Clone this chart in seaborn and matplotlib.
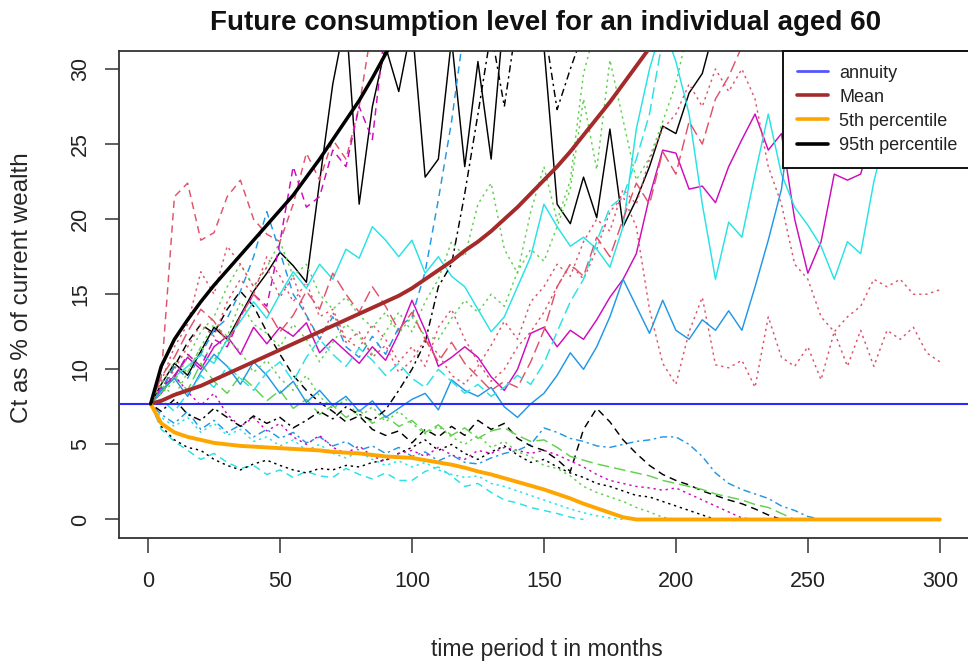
import numpy as np
import pandas as pd
import matplotlib
matplotlib.use("Agg")
import matplotlib.pyplot as plt
import seaborn as sns
from matplotlib.lines import Line2D

# ---------------------------------------------------------------- data
# months at which each simulated path is recorded (t = 1, 5, 10, ..., 300)
months = np.array([1] + list(range(5, 301, 5)))

annuity_level = 7.7

mean_path = [7.7, 7.9, 8.3, 8.6, 8.9, 9.3, 9.7, 10.1, 10.5, 10.9,
             11.3, 11.7, 12.1, 12.5, 12.9, 13.3, 13.7, 14.1, 14.5, 14.9,
             15.4, 16.0, 16.6, 17.2, 17.9, 18.5, 19.2, 20.0, 20.8, 21.7,
             22.6, 23.5, 24.5, 25.6, 26.7, 27.8, 29.0, 30.2, 31.4, 32.6,
             33.9]

pct95_path = [7.7, 10.2, 12.0, 13.3, 14.5, 15.6, 16.6, 17.6, 18.6, 19.6,
              20.6, 21.6, 22.8, 24.0, 25.3, 26.6, 27.9, 29.4, 31.0, 32.5]

pct5_path = [7.7, 6.4, 5.8, 5.5, 5.3, 5.1, 5.0, 4.9, 4.85, 4.8,
             4.75, 4.7, 4.65, 4.6, 4.5, 4.45, 4.4, 4.3, 4.2, 4.15,
             4.1, 3.95, 3.8, 3.65, 3.45, 3.2, 3.0, 2.75, 2.5, 2.25,
             2.0, 1.7, 1.4, 1.05, 0.75, 0.45, 0.15, 0.0, 0.0, 0.0,
             0.0, 0.0, 0.0, 0.0, 0.0, 0.0, 0.0, 0.0, 0.0, 0.0,
             0.0, 0.0, 0.0, 0.0, 0.0, 0.0, 0.0, 0.0, 0.0, 0.0,
             0.0]

# simulated consumption paths (Ct as % of current wealth)
sim_black_solid = [7.7, 9.0, 10.4, 9.6, 11.2, 12.8, 12.0, 13.6, 15.2, 16.4,
                   17.8, 16.9, 15.8, 22.5, 29.0, 33.5, 21.0, 27.5, 31.5, 28.5,
                   33.0, 22.8, 24.0, 32.0, 23.5, 30.5, 24.0, 34.0, 38.0, 36.0,
                   31.5, 21.0, 19.7, 22.8, 20.1, 26.0, 19.5, 21.3, 23.5, 26.2,
                   25.7, 28.4, 29.7, 33.0]
sim_red_dashed = [7.7, 9.5, 21.5, 22.4, 18.6, 19.1, 21.5, 22.6, 20.0, 19.0,
                  18.5, 21.0, 24.4, 22.6, 25.3, 24.0, 27.5, 33.0]
sim_green_dotted = [7.7, 9.0, 10.5, 9.8, 11.5, 13.0, 12.2, 14.5, 13.0, 12.4,
                    11.5, 13.0, 12.0, 10.5, 11.8, 13.0, 12.2, 11.0, 12.5, 13.8,
                    12.5, 14.5, 16.0, 18.5, 17.5, 21.0, 22.4, 18.0, 16.4, 20.5,
                    23.5, 19.9, 22.6, 29.7, 33.0]
sim_blue_dotdash = [7.7, 7.0, 6.4, 7.2, 6.0, 6.6, 5.8, 6.3, 5.5, 6.0,
                    5.4, 5.8, 5.1, 5.5, 4.9, 5.2, 4.6, 4.9, 4.4, 4.8,
                    4.2, 4.5, 3.9, 4.3, 3.8, 3.7, 4.1, 4.4, 4.6, 5.0,
                    6.1, 5.8, 5.4, 5.2, 4.9, 4.8, 5.0, 5.2, 5.3, 5.5,
                    5.5, 5.0, 4.2, 3.1, 2.4, 2.0, 1.7, 1.4, 0.9, 0.6,
                    0.2, 0.0]
sim_cyan_dashed = [7.7, 6.0, 5.2, 4.6, 4.0, 4.4, 3.8, 3.4, 3.6, 3.0,
                   3.3, 2.8, 3.2, 2.9, 2.8, 3.4, 3.0, 2.7, 3.1, 2.6,
                   2.6, 3.2, 3.5, 2.9, 2.2, 2.4, 1.8, 1.3, 1.1, 0.8,
                   0.6, 0.4, 0.15, 0.0]
sim_magenta_solid = [7.7, 8.4, 9.6, 10.8, 10.0, 11.5, 12.2, 11.0, 12.8, 11.7,
                     12.8, 12.2, 13.1, 11.1, 12.0, 11.2, 10.4, 11.5, 10.6, 12.4,
                     14.6, 12.6, 10.2, 10.8, 11.5, 10.8, 9.5, 8.6, 10.0, 12.4,
                     12.8, 11.5, 12.6, 12.0, 13.3, 14.8, 16.0, 17.7, 21.5, 24.6,
                     24.4, 22.0, 22.2, 21.1, 23.5, 25.3, 27.0, 24.6, 25.7, 20.0,
                     16.4, 18.5, 23.0, 22.6, 23.0, 26.0, 27.5, 28.0, 27.0, 28.0,
                     29.0]
sim_black_dashed = [7.7, 8.6, 10.2, 11.8, 13.0, 12.4, 14.0, 15.2, 14.2, 12.5,
                    11.0, 9.6, 8.6, 7.8, 7.2, 6.5, 6.9, 6.0, 5.6, 5.9,
                    5.1, 6.0, 5.5, 6.2, 5.6, 6.6, 6.0, 6.4, 5.4, 4.9,
                    4.6, 4.0, 3.2, 6.0, 7.4, 6.5, 5.3, 4.4, 3.6, 3.0,
                    2.6, 2.3, 1.9, 1.6, 1.3, 1.05, 0.7, 0.3, 0.0]
sim_red_dotted = [7.7, 8.6, 10.0, 11.5, 13.0, 12.2, 14.5, 16.0, 15.0, 17.5,
                  16.2, 14.5, 15.8, 13.5, 14.0, 12.0, 11.4, 13.0, 12.0, 10.5,
                  11.5, 10.2, 12.8, 14.0, 12.0, 10.5, 9.2, 10.0, 11.5, 12.5,
                  13.8, 15.5, 17.0, 16.0, 18.0, 20.5, 21.5, 19.5, 14.0, 10.4,
                  9.0, 12.5, 14.8, 10.3, 10.1, 10.6, 8.8, 13.5, 10.8, 10.2,
                  11.5, 9.3, 12.5, 10.2, 12.6, 10.2, 12.6, 12.0, 12.8, 11.1,
                  10.5]
sim_green_dotdash = [7.7, 8.4, 9.2, 10.8, 12.5, 13.5, 15.5, 17.0, 15.5, 16.8,
                     18.5, 16.2, 17.0, 15.0, 14.0, 14.8, 13.6, 12.8, 13.8, 12.4,
                     13.5, 12.2, 12.0, 13.4, 14.6, 13.8, 15.0, 14.2, 16.5, 18.0,
                     17.2, 19.5, 22.0, 28.0, 23.3, 30.6, 26.6, 22.6, 24.1, 26.5,
                     29.0, 33.0]
sim_blue_dashed = [7.7, 8.6, 10.2, 9.4, 11.0, 12.6, 13.4, 15.2, 17.5, 20.5,
                   17.8, 15.0, 13.6, 12.0, 13.5, 11.5, 10.8, 12.2, 11.0, 12.8,
                   13.5, 16.5, 21.3, 26.5, 33.0]
sim_cyan_solid = [7.7, 8.5, 9.5, 10.2, 11.0, 10.4, 12.0, 13.2, 14.5, 13.4,
                  15.0, 16.5, 15.4, 17.0, 16.0, 18.0, 17.4, 19.5, 18.6, 17.5,
                  18.6, 16.4, 17.5, 16.2, 15.5, 14.0, 12.5, 13.5, 15.5, 17.5,
                  21.0, 19.5, 18.2, 18.8, 18.0, 16.8, 19.5, 26.0, 30.0, 33.0,
                  30.5, 27.0, 21.0, 16.0, 19.8, 18.8, 23.0, 27.0, 23.0, 20.8,
                  19.6, 18.2, 16.0, 18.5, 17.7, 22.5, 26.0, 27.5, 28.0, 27.0,
                  28.0]
sim_magenta_dashed = [7.7, 8.8, 9.5, 11.0, 10.2, 12.0, 11.5, 13.5, 15.0, 14.2,
                      18.5, 23.5, 20.8, 21.5, 24.6, 23.5, 27.5, 25.3, 33.0]
sim_black_dotted = [7.7, 6.2, 5.3, 4.8, 4.6, 4.0, 3.6, 3.3, 3.7, 3.95,
                    3.6, 3.3, 3.1, 3.4, 3.3, 3.6, 3.5, 3.8, 3.95, 4.4,
                    4.8, 5.3, 4.6, 5.0, 4.4, 4.0, 4.5, 4.9, 4.3, 3.8,
                    4.0, 3.5, 3.1, 2.8, 2.4, 2.2, 1.9, 1.6, 1.5, 1.2,
                    0.9, 0.6, 0.3, 0.0]
sim_red_dotdash = [7.7, 9.2, 11.5, 13.0, 16.5, 15.0, 18.2, 17.0, 15.5, 16.8,
                   14.8, 16.2, 13.5, 12.0, 13.8, 11.8, 12.5, 10.8, 11.6, 9.8,
                   10.6, 12.0, 11.0, 9.6, 9.0, 10.2, 11.6, 13.2, 12.0, 14.5,
                   15.5, 17.0, 16.2, 18.5, 20.0, 19.2, 22.0, 21.0, 24.0, 26.0,
                   27.0, 29.0, 27.5, 30.0, 28.5, 30.0, 28.0, 23.5, 21.0, 17.0,
                   16.0, 13.5, 12.5, 13.5, 14.2, 16.0, 15.5, 16.0, 15.0, 15.0,
                   15.3]
sim_green_longdash = [7.7, 8.5, 9.5, 8.6, 10.4, 9.2, 8.4, 9.6, 8.8, 7.9,
                      8.6, 7.4, 8.0, 7.0, 7.6, 6.8, 7.3, 6.4, 6.9, 6.2,
                      6.6, 5.8, 6.3, 5.6, 6.1, 5.4, 5.9, 6.1, 5.6, 5.2,
                      5.3, 4.8, 4.2, 3.95, 3.7, 3.5, 3.3, 3.1, 2.9, 2.6,
                      2.4, 2.2, 2.0, 1.7, 1.5, 1.3, 1.0, 0.8, 0.4, 0.0]
sim_blue_solid = [7.7, 8.6, 9.4, 8.2, 9.8, 11.0, 10.2, 9.0, 10.5, 9.6,
                  8.4, 9.2, 7.8, 8.6, 7.6, 8.2, 7.2, 7.9, 6.8, 7.4,
                  8.0, 8.4, 7.3, 9.3, 8.6, 8.2, 8.8, 7.5, 6.8, 7.7,
                  8.4, 9.6, 11.1, 10.0, 11.5, 13.5, 16.0, 14.2, 12.4, 14.6,
                  12.6, 12.0, 13.3, 12.6, 13.9, 12.6, 15.5, 18.6, 22.0, 29.0,
                  33.0]
sim_cyan_dotted = [7.7, 6.8, 6.2, 6.8, 5.8, 6.4, 5.6, 6.0, 5.2, 5.5,
                   4.9, 5.3, 4.6, 5.0, 4.4, 4.1, 4.5, 4.0, 3.6, 3.9,
                   3.5, 3.8, 3.3, 3.0, 2.8, 2.9, 2.4, 2.2, 1.9, 1.6,
                   1.3, 1.0, 0.7, 0.45, 0.25, 0.1, 0.0]
sim_magenta_dotted = [7.7, 8.8, 9.6, 8.5, 7.6, 8.4, 7.0, 6.2, 6.8, 5.9,
                      6.4, 5.5, 5.0, 5.6, 4.8, 4.4, 4.9, 4.2, 3.9, 4.4,
                      4.6, 4.2, 4.8, 4.3, 4.0, 4.6, 4.4, 4.8, 4.6, 4.4,
                      4.6, 4.3, 3.9, 3.5, 3.0, 2.6, 2.4, 2.2, 2.1, 1.95,
                      2.1, 1.7, 1.3, 0.9, 0.5, 0.1, 0.0]
sim_black_dotdash = [7.7, 7.2, 8.0, 7.0, 6.6, 7.4, 6.8, 6.2, 6.9, 6.4,
                     6.8, 6.1, 6.6, 7.2, 6.7, 7.5, 7.0, 6.6, 7.3, 8.6,
                     10.0, 11.8, 15.5, 17.0, 21.7, 27.0, 32.5, 27.5, 33.5, 37.0,
                     33.0, 27.3, 30.0, 32.5, 36.0]
sim_red_longdash = [7.7, 9.5, 10.8, 12.5, 14.0, 13.2, 11.8, 13.5, 15.0, 14.0,
                    12.5, 13.6, 15.2, 14.0, 16.4, 15.0, 13.8, 15.5, 14.2, 12.6,
                    13.8, 12.0, 10.5, 11.8, 10.4, 9.5, 8.6, 9.2, 8.8, 10.5,
                    12.6, 15.5, 17.0, 16.2, 18.8, 17.5, 20.0, 22.4, 21.0, 24.5,
                    23.0, 26.5, 25.0, 28.0, 29.5, 31.5, 34.0]
sim_green_dotted_low = [7.7, 9.0, 8.2, 9.8, 11.5, 10.6, 12.0, 11.2, 9.8, 10.6,
                        9.4, 8.6, 9.6, 8.2, 7.4, 8.0, 6.8, 7.5, 6.5, 7.2,
                        6.4, 5.7, 6.2, 5.5, 5.0, 5.6, 4.8, 5.2, 4.5, 4.2,
                        3.6, 3.4, 2.9, 2.2, 1.8, 1.5, 1.2, 0.8, 0.5, 0.15,
                        0.0]
sim_cyan_longdash = [7.7, 8.0, 7.2, 8.4, 9.6, 8.8, 10.2, 9.4, 8.6, 9.8,
                     10.5, 9.2, 10.8, 12.0, 11.0, 10.2, 11.4, 10.6, 9.6, 10.4,
                     9.4, 8.8, 10.0, 9.2, 8.4, 9.0, 8.2, 8.8, 9.6, 9.0,
                     10.4, 12.5, 14.5, 16.0, 18.5, 20.8, 21.5, 24.0, 27.0, 32.0]

# ---------------------------------------------------------------- styling
BLACK, RED, GREEN = "#000000", "#DF536B", "#61D04F"
BLUE, CYAN, MAGENTA = "#2297E6", "#28E2E5", "#CD0BBC"
SOLID, DASHED, DOTTED = "", (5.0, 3.5), (1.6, 2.6)
DOTDASH, LONGDASH = (1.6, 2.6, 5.0, 2.6), (8.0, 3.5)

paths = [
    ("p01", sim_black_solid, BLACK, SOLID),
    ("p02", sim_red_dashed, RED, DASHED),
    ("p03", sim_green_dotted, GREEN, DOTTED),
    ("p04", sim_blue_dotdash, BLUE, DOTDASH),
    ("p05", sim_cyan_dashed, CYAN, DASHED),
    ("p06", sim_magenta_solid, MAGENTA, SOLID),
    ("p07", sim_black_dashed, BLACK, DASHED),
    ("p08", sim_red_dotted, RED, DOTTED),
    ("p09", sim_green_dotdash, GREEN, DOTTED),
    ("p10", sim_blue_dashed, BLUE, DASHED),
    ("p11", sim_cyan_solid, CYAN, SOLID),
    ("p12", sim_magenta_dashed, MAGENTA, DASHED),
    ("p13", sim_black_dotted, BLACK, DOTTED),
    ("p14", sim_red_dotdash, RED, DOTTED),
    ("p15", sim_green_longdash, GREEN, LONGDASH),
    ("p16", sim_blue_solid, BLUE, SOLID),
    ("p17", sim_cyan_dotted, CYAN, DOTTED),
    ("p18", sim_magenta_dotted, MAGENTA, DOTTED),
    ("p19", sim_black_dotdash, BLACK, DOTDASH),
    ("p20", sim_red_longdash, RED, LONGDASH),
    ("p21", sim_green_dotted_low, GREEN, DOTTED),
    ("p22", sim_cyan_longdash, CYAN, LONGDASH),
]

frames = []
for name, vals, _, _ in paths:
    frames.append(pd.DataFrame({"path": name,
                                "month": months[:len(vals)],
                                "value": vals}))
sims = pd.concat(frames, ignore_index=True)
order = [p[0] for p in paths]
palette = {p[0]: p[2] for p in paths}
dashes = {p[0]: p[3] for p in paths}

# ---------------------------------------------------------------- figure
sns.set_style("white")
plt.rcParams["font.family"] = ["Liberation Sans", "DejaVu Sans"]
plt.rcParams["text.color"] = "#222222"
plt.rcParams["xtick.color"] = "#333333"
plt.rcParams["ytick.color"] = "#333333"
plt.rcParams["xtick.labelcolor"] = "#222222"
plt.rcParams["ytick.labelcolor"] = "#222222"

fig = plt.figure(figsize=(9.68, 6.67), dpi=100, facecolor="white")
ax = fig.add_axes([0.12293, 0.19415, 0.88068, 0.72939])

sns.lineplot(data=sims, x="month", y="value", hue="path", style="path",
             hue_order=order, style_order=order, palette=palette,
             dashes=dashes, estimator=None, sort=False, legend=False,
             linewidth=1.05, ax=ax)

ax.axhline(annuity_level, color="#2b2bff", lw=1.5, zorder=5)
sns.lineplot(x=months[:len(mean_path)], y=mean_path, color="#A52A2A",
             lw=2.8, ax=ax, zorder=6)
sns.lineplot(x=months[:len(pct5_path)], y=pct5_path, color="#FFA500",
             lw=2.8, ax=ax, zorder=6)
sns.lineplot(x=months[:len(pct95_path)], y=pct95_path, color="#000000",
             lw=2.5, ax=ax, zorder=6)

ax.set_xlim(-11, 312)
ax.set_ylim(-1.2, 31.2)
ax.set_xticks(range(0, 301, 50))
ax.set_yticks(range(0, 31, 5))

for side in ("left", "right", "top", "bottom"):
    ax.spines[side].set_visible(True)
    ax.spines[side].set_color("#333333")
    ax.spines[side].set_linewidth(1.3)

ax.tick_params(axis="x", direction="out", length=10.8, width=1.1, pad=13,
               labelsize=15.5, bottom=True)
ax.tick_params(axis="y", direction="out", length=10.0, width=1.1, pad=10,
               labelsize=15.5, labelrotation=90, left=True)
for lab in ax.get_yticklabels():
    lab.set_verticalalignment("center")

ax.set_title("Future consumption level for an individual aged 60",
             fontsize=20, fontweight="bold", pad=15, color="#111111")
ax.set_xlabel("time period t in months", fontsize=16.5, va="center")
ax.xaxis.set_label_coords(0.502, -0.2312)
ax.set_ylabel("Ct as % of current wealth", fontsize=17.5, va="center")
ax.yaxis.set_label_coords(-0.1138, 0.514)

handles = [Line2D([], [], color="#5555ff", lw=2.0),
           Line2D([], [], color="#A52A2A", lw=2.6),
           Line2D([], [], color="#FFA500", lw=2.6),
           Line2D([], [], color="#000000", lw=2.6)]
labels = ["annuity", "Mean", "5th percentile", "95th percentile"]
leg = ax.legend(handles, labels, loc="upper right", bbox_to_anchor=(1.0, 1.0),
                borderaxespad=0.0, fontsize=13, handlelength=1.7,
                handletextpad=0.65, borderpad=0.76, labelspacing=0.39,
                frameon=True, fancybox=False, framealpha=1.0,
                edgecolor="#111111", facecolor="white")
leg.get_frame().set_linewidth(1.4)
leg.set_zorder(20)

fig.savefig("out.png", dpi=100, facecolor="white")
